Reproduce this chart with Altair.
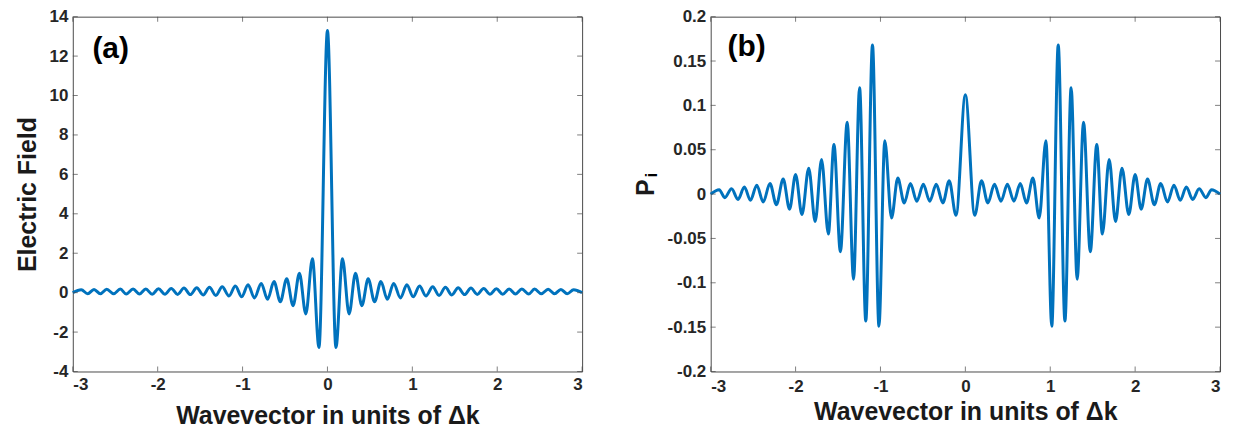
import altair as alt
import pandas as pd

# ---- data (both curves are symmetric about k = 0; right halves listed) ----
# Panel (a): Electric field, local extrema for k >= 0
A_K = [0.0, 0.10, 0.177, 0.255, 0.33, 0.405, 0.48, 0.555, 0.63, 0.705,
       0.78, 0.86, 0.935, 1.01, 1.085, 1.16, 1.24, 1.315, 1.39, 1.465,
       1.54, 1.615, 1.69, 1.765, 1.84, 1.915, 1.99, 2.065, 2.14, 2.215,
       2.29, 2.37, 2.44, 2.52, 2.60, 2.675, 2.75, 2.825, 2.90, 3.0]
A_E = [13.3, -2.78, 1.72, -1.08, 0.98, -0.66, 0.70, -0.46, 0.56, -0.34,
       0.47, -0.27, 0.40, -0.21, 0.34, -0.17, 0.30, -0.14, 0.27, -0.12,
       0.25, -0.10, 0.23, -0.09, 0.21, -0.08, 0.20, -0.08, 0.19, -0.07,
       0.18, -0.07, 0.18, -0.06, 0.17, -0.06, 0.16, -0.06, 0.15, 0.0]

# Panel (b): P_i, local extrema for k >= 0
B_K = [0.0, 0.11, 0.19, 0.265, 0.343, 0.42, 0.495, 0.572, 0.647, 0.72,
       0.796, 0.87, 0.949, 1.018, 1.094, 1.173, 1.246, 1.317, 1.392, 1.472,
       1.548, 1.614, 1.694, 1.769, 1.845, 1.925, 2.0, 2.071, 2.146, 2.226,
       2.302, 2.381, 2.457, 2.532, 2.603, 2.678, 2.754, 2.834, 2.90, 3.0]
B_P = [0.112, -0.024, 0.015, -0.010, 0.011, -0.008, 0.011, -0.008, 0.012, -0.010,
       0.018, -0.027, 0.060, -0.149, 0.168, -0.143, 0.120, -0.096, 0.081, -0.065,
       0.056, -0.045, 0.039, -0.031, 0.029, -0.023, 0.022, -0.017, 0.017, -0.012,
       0.012, -0.009, 0.010, -0.007, 0.008, -0.006, 0.006, -0.004, 0.005, 0.0]

X_TICKS = [-3, -2, -1, 0, 1, 2, 3]
A_TICKS = [-4, -2, 0, 2, 4, 6, 8, 10, 12, 14]
B_TICKS = [-0.2, -0.15, -0.1, -0.05, 0, 0.05, 0.1, 0.15, 0.2]
X_TITLE = "Wavevector in units of Δk"
A_TITLE = "Electric Field"
B_TITLE = "P"
B_SUB = "i"
PANEL_LABELS = ["(a)", "(b)"]


def mirrored(ks, vs):
    k = [-v for v in reversed(ks[1:])] + list(ks)
    v = list(reversed(vs[1:])) + list(vs)
    return pd.DataFrame({"k": k, "v": v})


FONT = "Liberation Sans"
LINE = "#0072BD"
FRAME = "#4a4a4a"
W, H = 511, 356


def panel(df, yticks, ytitle, label, lab_x, lab_y, x_lab_pad, x_title_pad, y_title_pad,
          title_y=None, extra=None):
    xdom = [X_TICKS[0], X_TICKS[-1]]
    ydom = [yticks[0], yticks[-1]]
    xs = alt.Scale(domain=xdom, nice=False, zero=False)
    ys = alt.Scale(domain=ydom, nice=False, zero=False)
    x_axis = alt.Axis(values=X_TICKS, title=X_TITLE, grid=False, ticks=False, domain=False,
                      labelExpr="'' + datum.value", labelPadding=x_lab_pad,
                      titlePadding=x_title_pad)
    y_kw = dict(values=yticks, title=ytitle, grid=False, ticks=False, domain=False,
                labelExpr="'' + datum.value", labelPadding=5, titlePadding=y_title_pad)
    if title_y is not None:
        y_kw["titleY"] = title_y
    y_axis = alt.Axis(**y_kw)
    line = alt.Chart(df).mark_line(interpolate="monotone", color=LINE, strokeWidth=3).encode(
        x=alt.X("k:Q", scale=xs, axis=x_axis),
        y=alt.Y("v:Q", scale=ys, axis=y_axis),
    )
    xt = pd.DataFrame({"k": X_TICKS})
    yt = pd.DataFrame({"v": yticks})
    tick_style = dict(color=FRAME, size=5, thickness=1)
    t_bottom = alt.Chart(xt).mark_tick(orient="vertical", yOffset=-2.5, **tick_style).encode(
        x=alt.X("k:Q", scale=xs, axis=x_axis), y=alt.YDatum(ydom[0], scale=ys, axis=y_axis))
    t_top = alt.Chart(xt).mark_tick(orient="vertical", yOffset=2.5, **tick_style).encode(
        x=alt.X("k:Q", scale=xs, axis=x_axis), y=alt.YDatum(ydom[1], scale=ys, axis=y_axis))
    t_left = alt.Chart(yt).mark_tick(orient="horizontal", xOffset=2.5, **tick_style).encode(
        y=alt.Y("v:Q", scale=ys, axis=y_axis), x=alt.XDatum(xdom[0], scale=xs, axis=x_axis))
    t_right = alt.Chart(yt).mark_tick(orient="horizontal", xOffset=-2.5, **tick_style).encode(
        y=alt.Y("v:Q", scale=ys, axis=y_axis), x=alt.XDatum(xdom[1], scale=xs, axis=x_axis))
    lab = alt.Chart(pd.DataFrame({"t": [label]})).mark_text(
        font=FONT, fontSize=30, fontWeight="bold", color="#000000", align="center", baseline="middle"
    ).encode(text="t:N", x=alt.value(lab_x), y=alt.value(lab_y))
    layers = [line, t_bottom, t_top, t_left, t_right, lab]
    if extra is not None:
        layers.append(extra)
    return alt.layer(*layers).properties(width=W, height=H)


pa = panel(mirrored(A_K, A_E), A_TICKS, A_TITLE, PANEL_LABELS[0], 38, 32, 5, 11, 9)
sub = alt.Chart(pd.DataFrame({"t": [B_SUB]})).mark_text(
    font=FONT, fontSize=17, fontWeight="bold", color="#000000", angle=270,
    align="center", baseline="alphabetic"
).encode(text="t:N", x=alt.value(-54), y=alt.value(159))
pb = panel(mirrored(B_K, B_P), B_TICKS, B_TITLE, PANEL_LABELS[1], 36, 30, 7, 5, 9,
           title_y=171, extra=sub)

chart = alt.hconcat(pa, pb, spacing=129, bounds="flush").properties(
    padding={"left": 6, "top": -2, "right": 0, "bottom": 0}
).configure_view(stroke=FRAME, strokeWidth=1).configure_axis(
    labelFont=FONT, labelFontSize=17, labelFontWeight="bold", labelColor="#262626",
    titleFont=FONT, titleFontSize=25, titleFontWeight="bold", titleColor="#1a1a1a",
)

chart.save("out.html", embed_options={"renderer": "svg", "actions": False})
